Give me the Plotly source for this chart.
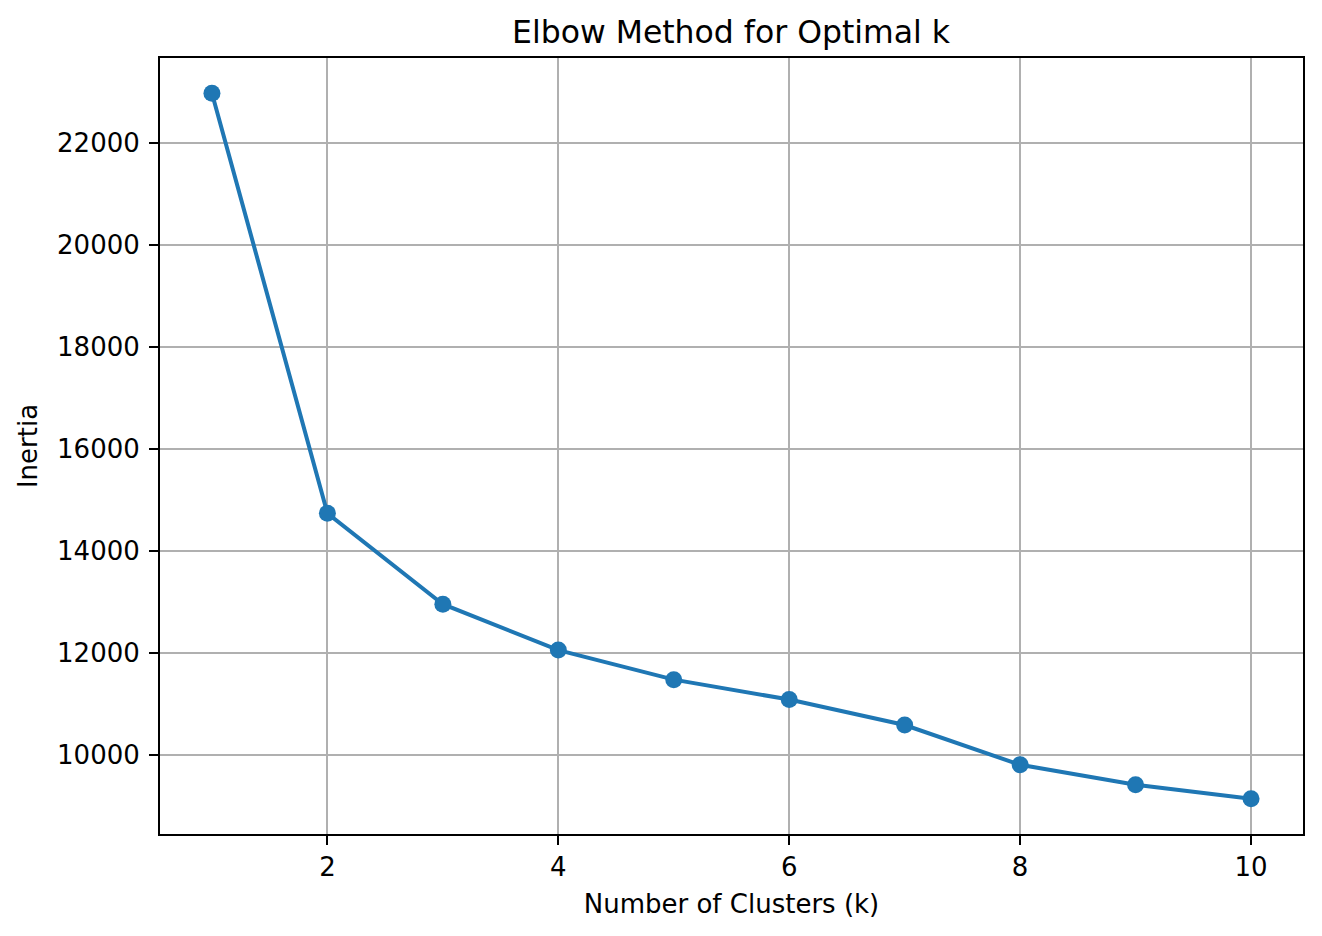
import plotly.graph_objects as go

k_values = [1, 2, 3, 4, 5, 6, 7, 8, 9, 10]
inertia = [22980, 14742, 12960, 12060, 11480, 11090, 10590, 9810, 9420, 9145]
x_ticks = [2, 4, 6, 8, 10]
y_ticks = [10000, 12000, 14000, 16000, 18000, 20000, 22000]

FONT = "DejaVu Sans"
span = max(inertia) - min(inertia)
y_range = [min(inertia) - 0.05 * span, max(inertia) + 0.05 * span]
x_span = max(k_values) - min(k_values)
x_range = [min(k_values) - 0.05 * x_span, max(k_values) + 0.05 * x_span]

fig = go.Figure()
fig.add_trace(go.Scatter(
    x=k_values, y=inertia, mode="lines+markers",
    line=dict(color="#1f77b4", width=4),
    marker=dict(color="#1f77b4", size=17, line=dict(width=0)),
    showlegend=False,
))

axis_common = dict(
    showline=True, linecolor="black", linewidth=2, mirror=True,
    showgrid=True, gridcolor="#b0b0b0", gridwidth=2,
    ticks="outside", ticklen=9, tickwidth=2, tickcolor="black",
    tickfont=dict(family=FONT, size=26, color="black"),
    zeroline=False, automargin=False,
)

fig.update_layout(
    width=1322, height=936,
    margin=dict(l=160, r=19, t=58, b=102),
    paper_bgcolor="white", plot_bgcolor="white",
    font=dict(family=FONT, color="black"),
    xaxis=dict(range=x_range, tickvals=x_ticks, ticklabelstandoff=0,
               title=dict(text="Number of Clusters (k)", font=dict(family=FONT, size=26), standoff=14),
               **axis_common),
    yaxis=dict(range=y_range, tickvals=y_ticks, tickformat="d", ticklabelstandoff=4,
               title=dict(text="Inertia", font=dict(family=FONT, size=26), standoff=12),
               **axis_common),
    annotations=[dict(
        text="Elbow Method for Optimal k", xref="paper", yref="paper",
        x=0.5, y=1, xanchor="center", yanchor="bottom", yshift=6,
        showarrow=False, font=dict(family=FONT, size=31.5, color="black"),
    )],
)

fig.write_html(
    "out.html",
    config={"displayModeBar": False},
    post_script="document.body.style.margin='0';document.body.style.overflow='hidden';",
)
